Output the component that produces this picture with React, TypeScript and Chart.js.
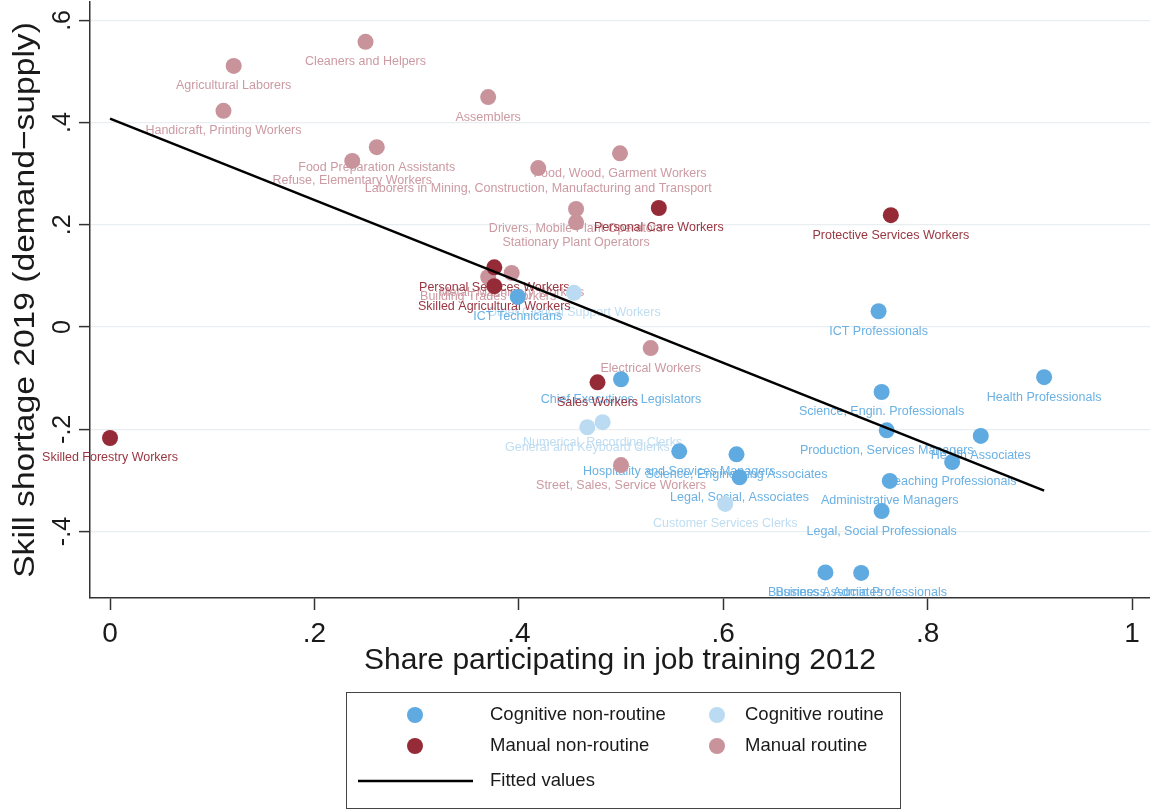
import React, { useEffect, useRef } from "react";
import { Chart, registerables } from "chart.js";

Chart.register(...registerables);

const FONT = '"Liberation Sans", Arial, Helvetica, sans-serif';

// Cognitive non-routine occupations
const cnrNames = [
  "ICT Professionals",
  "Health Professionals",
  "Science, Engin. Professionals",
  "Production, Services Managers",
  "Health Associates",
  "Teaching Professionals",
  "Administrative Managers",
  "Legal, Social Professionals",
  "Chief Executives, Legislators",
  "Hospitality and Services Managers",
  "Science, Engineering Associates",
  "Legal, Social, Associates",
  "Business Associates",
  "Business, Admin Professionals",
  "ICT Technicians",
];
const cnrX = [0.752, 0.914, 0.755, 0.76, 0.852, 0.824, 0.763, 0.755, 0.5, 0.557, 0.613, 0.616, 0.7, 0.735, 0.399];
const cnrY = [0.031, -0.098, -0.127, -0.202, -0.213, -0.264, -0.301, -0.36, -0.102, -0.243, -0.249, -0.294, -0.48, -0.481, 0.059];

// Cognitive routine occupations
const crNames = [
  "Other Clerical Support Workers",
  "Numerical, Recording Clerks",
  "General and Keyboard Clerks",
  "Customer Services Clerks",
];
const crX = [0.454, 0.482, 0.467, 0.602];
const crY = [0.067, -0.186, -0.196, -0.346];

// Manual non-routine occupations
const mnrNames = [
  "Personal Care Workers",
  "Protective Services Workers",
  "Personal Services Workers",
  "Skilled Agricultural Workers",
  "Sales Workers",
  "Skilled Forestry Workers",
];
const mnrX = [0.537, 0.764, 0.376, 0.376, 0.477, 0.0];
const mnrY = [0.233, 0.219, 0.117, 0.08, -0.108, -0.217];

// Manual routine occupations
const mrNames = [
  "Cleaners and Helpers",
  "Agricultural Laborers",
  "Handicraft, Printing Workers",
  "Assemblers",
  "Food Preparation Assistants",
  "Refuse, Elementary Workers",
  "Laborers in Mining, Construction, Manufacturing and Transport",
  "Food, Wood, Garment Workers",
  "Drivers, Mobile Plant Operators",
  "Stationary Plant Operators",
  "Building Trades Workers",
  "Metal, Machinery Workers",
  "Electrical Workers",
  "Street, Sales, Service Workers",
];
const mrX = [0.25, 0.121, 0.111, 0.37, 0.261, 0.237, 0.419, 0.499, 0.456, 0.456, 0.37, 0.393, 0.529, 0.5];
const mrY = [0.558, 0.511, 0.423, 0.45, 0.352, 0.325, 0.311, 0.34, 0.231, 0.205, 0.098, 0.106, -0.041, -0.27];

// Linear fit endpoints
const fitX = [0.0, 0.914];
const fitY = [0.408, -0.32];

const xTicks = [0, 0.2, 0.4, 0.6, 0.8, 1];
const yTicks = [-0.4, -0.2, 0, 0.2, 0.4, 0.6];

const X_MIN = -0.0196;
const X_MAX = 1.0176;
const Y_MIN = -0.53;
const Y_MAX = 0.636;

const xTitle = "Share participating in job training 2012";
const yTitle = "Skill shortage 2019 (demand\u2212supply)";

const COLORS = {
  cnr: "#5EAAE1",
  cr: "#BADBF2",
  mnr: "#962B38",
  mr: "#C8939B",
};
const LABEL_COLORS = {
  cnr: "#6BB1E3",
  cr: "#BFDDF2",
  mnr: "#9A3641",
  mr: "#CC9AA2",
};

const fmtTick = (v: number) => {
  if (Math.abs(v) < 1e-9) return "0";
  if (Math.abs(v - 1) < 1e-9) return "1";
  const s = (Math.round(v * 10) / 10).toString();
  return s.replace("0.", ".");
};

const noPadding = (s: any) => {
  s.paddingTop = 0;
  s.paddingBottom = 0;
  s.paddingLeft = 0;
  s.paddingRight = 0;
};

export default function App() {
  const ref = useRef<HTMLCanvasElement>(null);

  useEffect(() => {
    document.body.style.margin = "0";
    const canvas = ref.current;
    if (!canvas) return;

    const toPts = (xs: number[], ys: number[]) => xs.map((x, i) => ({ x, y: ys[i] }));

    const groups = [
      { key: "cr", label: "Cognitive routine", names: crNames, xs: crX, ys: crY },
      { key: "cnr", label: "Cognitive non-routine", names: cnrNames, xs: cnrX, ys: cnrY },
      { key: "mr", label: "Manual routine", names: mrNames, xs: mrX, ys: mrY },
      { key: "mnr", label: "Manual non-routine", names: mnrNames, xs: mnrX, ys: mnrY },
    ] as const;

    // Occupation names, drawn under the markers
    const pointLabels = {
      id: "pointLabels",
      beforeDatasetsDraw(chart: any) {
        const ctx = chart.ctx;
        ctx.save();
        ctx.font = `12.5px ${FONT}`;
        ctx.textAlign = "center";
        ctx.textBaseline = "middle";
        chart.data.datasets.forEach((ds: any, i: number) => {
          if (!ds.names) return;
          const meta = chart.getDatasetMeta(i);
          ctx.fillStyle = ds.labelColor;
          meta.data.forEach((el: any, j: number) => {
            ctx.fillText(ds.names[j], el.x, el.y + 20);
          });
        });
        ctx.restore();
      },
    };

    // Axis texts and the legend box
    const frame = {
      id: "frame",
      afterDraw(chart: any) {
        const ctx = chart.ctx;
        const ys = chart.scales.y;
        const area = chart.chartArea;
        ctx.save();
        ctx.fillStyle = "#1a1a1a";
        ctx.textAlign = "center";
        ctx.textBaseline = "middle";

        // y tick labels, rotated
        ctx.font = `25px ${FONT}`;
        yTicks.forEach((v) => {
          const py = ys.getPixelForValue(v);
          ctx.save();
          ctx.translate(63, py);
          ctx.rotate(-Math.PI / 2);
          ctx.fillText(fmtTick(v), 0, 0);
          ctx.restore();
        });

        // y title
        ctx.save();
        ctx.font = `30px ${FONT}`;
        ctx.translate(26, (area.top + area.bottom) / 2);
        ctx.rotate(-Math.PI / 2);
        ctx.scale(1.12, 1);
        ctx.fillText(yTitle, 0, 0);
        ctx.restore();

        // x title
        ctx.font = `30px ${FONT}`;
        ctx.fillText(xTitle, (area.left + area.right) / 2, 661);

        // legend
        ctx.strokeStyle = "#444";
        ctx.lineWidth = 1;
        ctx.strokeRect(346.5, 692.5, 554, 116);
        ctx.font = `18.5px ${FONT}`;
        ctx.textAlign = "left";
        const rows: [string, string, number, number, number][] = [
          [COLORS.cnr, "Cognitive non-routine", 415, 490, 715],
          [COLORS.cr, "Cognitive routine", 717, 745, 715],
          [COLORS.mnr, "Manual non-routine", 415, 490, 746],
          [COLORS.mr, "Manual routine", 717, 745, 746],
        ];
        rows.forEach(([c, t, mx, tx, y]) => {
          ctx.fillStyle = c;
          ctx.beginPath();
          ctx.arc(mx, y, 8, 0, Math.PI * 2);
          ctx.fill();
          ctx.fillStyle = "#1a1a1a";
          ctx.fillText(t, tx, y);
        });
        ctx.strokeStyle = "#000";
        ctx.lineWidth = 2.5;
        ctx.beginPath();
        ctx.moveTo(358, 781);
        ctx.lineTo(473, 781);
        ctx.stroke();
        ctx.fillStyle = "#1a1a1a";
        ctx.fillText("Fitted values", 490, 781);
        ctx.restore();
      },
    };

    const datasets: any[] = groups.map((g, idx) => ({
      type: "scatter",
      label: g.label,
      data: toPts(g.xs as number[], g.ys as number[]),
      names: g.names,
      labelColor: LABEL_COLORS[g.key],
      backgroundColor: COLORS[g.key],
      borderWidth: 0,
      pointRadius: 8,
      order: 10 - idx,
    }));
    datasets.push({
      type: "line",
      label: "Fitted values",
      data: toPts(fitX, fitY),
      borderColor: "#000",
      borderWidth: 2.5,
      pointRadius: 0,
      fill: false,
      order: 0,
    });

    const chart = new Chart(canvas, {
      type: "scatter",
      data: { datasets },
      options: {
        responsive: false,
        animation: false,
        events: [],
        layout: { autoPadding: false, padding: { top: 2, left: 0, right: 0, bottom: 0 } },
        plugins: { legend: { display: false }, tooltip: { enabled: false } },
        scales: {
          x: {
            type: "linear",
            min: X_MIN,
            max: X_MAX,
            afterFit: (s: any) => {
              s.height = 213;
              noPadding(s);
            },
            afterBuildTicks: (s: any) => {
              s.ticks = xTicks.map((v) => ({ value: v }));
            },
            grid: {
              drawOnChartArea: false,
              drawTicks: true,
              tickLength: 12,
              tickColor: "#333",
              tickWidth: 1.5,
            },
            border: { color: "#333", width: 1.5 },
            ticks: {
              font: { family: FONT, size: 28 },
              color: "#1a1a1a",
              padding: 7,
              maxRotation: 0,
              autoSkip: false,
              callback: (v: any) => fmtTick(Number(v)),
            },
          },
          y: {
            type: "linear",
            min: Y_MIN,
            max: Y_MAX,
            afterFit: (s: any) => {
              s.width = 90;
              noPadding(s);
            },
            afterBuildTicks: (s: any) => {
              s.ticks = yTicks.map((v) => ({ value: v }));
            },
            grid: {
              color: "#E9EFF1",
              lineWidth: 1.2,
              drawTicks: true,
              tickLength: 11,
              tickColor: "#333",
              tickWidth: 1.5,
            },
            border: { color: "#333", width: 1.5 },
            ticks: { display: false },
          },
        },
      },
      plugins: [pointLabels, frame],
    } as any);

    return () => chart.destroy();
  }, []);

  return (
    <div style={{ width: 1150, height: 811, background: "#fff" }}>
      <canvas ref={ref} width={1150} height={811} style={{ display: "block" }} />
    </div>
  );
}
